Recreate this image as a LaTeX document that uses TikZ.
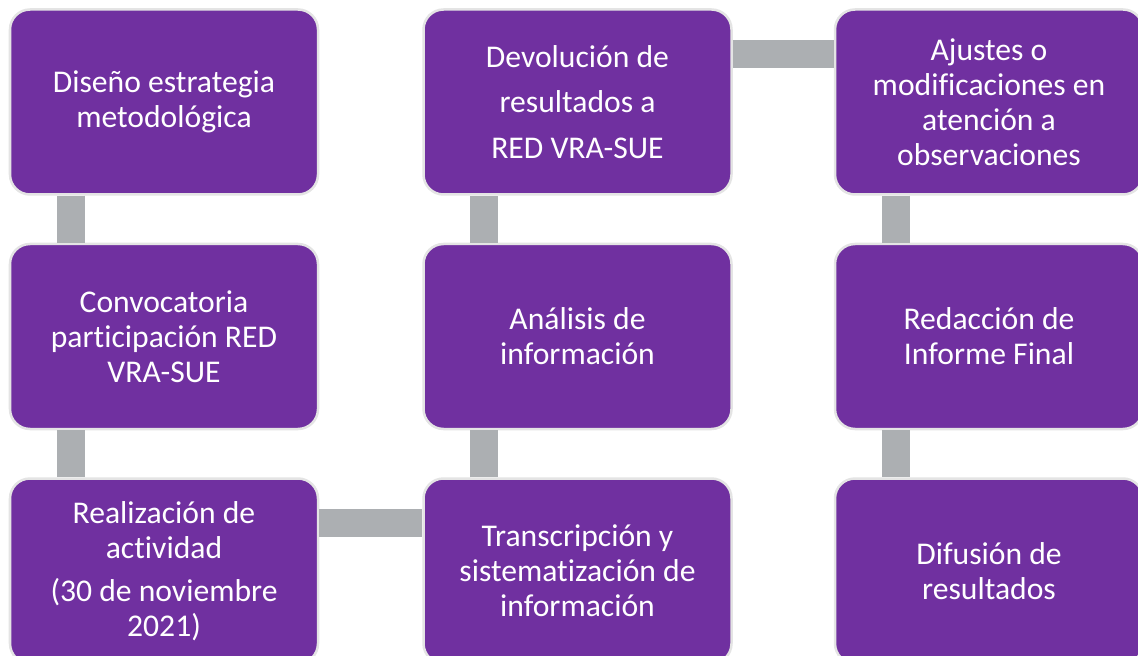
\documentclass[tikz,border=0pt]{standalone}
\usepackage{fontspec}
\setmainfont{Carlito}[Ligatures=CommonOff]
\usepackage{tikz}
\usetikzlibrary{positioning}
\definecolor{c_box}{RGB}{112,48,160}
\definecolor{c_link}{RGB}{172,175,178}
\definecolor{c_edge}{RGB}{228,228,228}
\tikzset{c-box/.style={rectangle, rounded corners=0.4cm, minimum width=6.16cm, minimum height=3.7cm, text centered, align=center, draw=c_edge, line width=0.05cm, fill=c_box, text=white, font=\fontsize{18}{20}\selectfont},
link/.style={line width=0.56cm, draw=c_link}}

\begin{document}
\begin{tikzpicture}
\useasboundingbox (0,0) rectangle (22.76,13.1);
\clip (0,0) rectangle (22.76,13.1);
\node (n1a) [c-box] at (3.28,11.06) {
Diseño estrategia\\
metodológica
};
\node (n2a) [c-box, below=0.94cm of n1a] {
Convocatoria\\
participación RED\\
VRA-SUE
};
\node (n3a) [c-box, below=0.94cm of n2a] {
Realización de\\
actividad\\[0.16cm]
(30 de noviembre\\
2021)
};
\node (n3b) [c-box, right=2.06cm of n3a] {
Transcripción y\\
sistematización de\\
información
};
\node (n2b) [c-box, above=0.94cm of n3b] {
Análisis de\\
información
};
\node (n1b) [c-box, above=0.94cm of n2b] {
Devolución de\\[0.2cm]
resultados a\\[0.2cm]
RED VRA-SUE
};
\node (n1c) [c-box, right=2.02cm of n1b] {
Ajustes o\\
modificaciones en\\
atención a\\
observaciones
};
\node (n2c) [c-box, below=0.94cm of n1c] {
Redacción de\\
Informe Final
};
\node (n3c) [c-box, below=0.94cm of n2c] {
Difusión de\\
resultados
};
\draw [link] ([xshift=1.24cm]n1a.south west) -- ([xshift=1.24cm]n2a.north west);
\draw [link] ([xshift=1.24cm]n2a.south west) -- ([xshift=1.24cm]n3a.north west);
\draw [link] ([yshift=-0.92cm]n3a.north east) -- ([yshift=-0.92cm]n3b.north west);
\draw [link] ([xshift=1.24cm]n3b.north west) -- ([xshift=1.24cm]n2b.south west);
\draw [link] ([xshift=1.24cm]n2b.north west) -- ([xshift=1.24cm]n1b.south west);
\draw [link] ([yshift=-0.92cm]n1b.north east) -- ([yshift=-0.92cm]n1c.north west);
\draw [link] ([xshift=1.24cm]n1c.south west) -- ([xshift=1.24cm]n2c.north west);
\draw [link] ([xshift=1.24cm]n2c.south west) -- ([xshift=1.24cm]n3c.north west);
\end{tikzpicture}
\end{document}
